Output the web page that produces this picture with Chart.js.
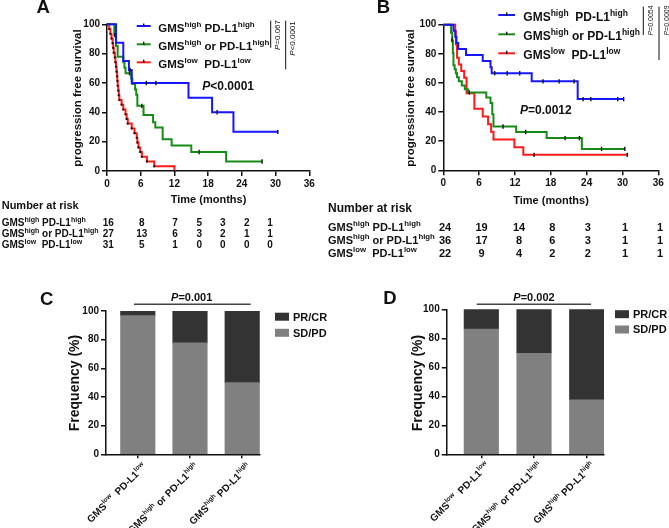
<!DOCTYPE html>
<html><head><meta charset="utf-8">
<script src="https://cdn.jsdelivr.net/npm/chart.js@4.4.1/dist/chart.umd.min.js"></script>
<style>
html,body{margin:0;padding:0;background:#fff;}
body{width:669px;height:528px;position:relative;overflow:hidden;}
canvas{position:absolute;}
</style></head><body>
<canvas id="ca" width="330" height="290" style="left:0;top:0"></canvas>
<canvas id="cb" width="345" height="290" style="left:324px;top:0"></canvas>
<canvas id="cc" width="335" height="238" style="left:0;top:290px"></canvas>
<canvas id="cd" width="334" height="238" style="left:335px;top:290px"></canvas>
<script>
const FONT = "'Liberation Sans', Arial, Helvetica, sans-serif";
const INK = '#111';
const BLUE = '#1616ff', GREEN = '#168c16', RED = '#ff1a1a';
const DARK = '#333333', GREY = '#808080';

// ---- text data (rich text: [text, superscript, italic]) ----
const grpHigh = [['GMS',0],['high',1],[' PD-L1',0],['high',1]];
const grpMid  = [['GMS',0],['high',1],[' or PD-L1',0],['high',1]];
const grpLow  = [['GMS',0],['low',1],['  PD-L1',0],['low',1]];

const timeTicks = [0,6,12,18,24,30,36];
const survTicks = [0,20,40,60,80,100];
const freqTicks = [0,20,40,60,80,100];

// ---- Panel A survival ----
const aHighT = [0,1.6,2.9,3.9,4.4,14.5,18.7,22.5,30.4];
const aHighS = [100,87.5,75,68.8,60,50,40,26.7,26.7];
const aHighCT = [4.1,7.0,8.7,19.6,30.4];
const aHighCS = [68.8,60,60,40,26.7];

const aMidT = [0,1.3,1.6,1.9,2.9,3.1,3.3,4.3,4.5,5.0,5.2,5.4,6.5,8.2,8.6,9.9,11.5,15.0,21.2,27.6];
const aMidS = [100,92.6,85.2,77.8,74.1,70.4,66.7,63,59.3,55.6,51.9,44.4,38.2,33.3,29.6,21.7,17.4,13,6.5,6.5];
const aMidCT = [1.4,4.0,6.2,16.4,27.6];
const aMidCS = [92.6,66.7,44.4,13,6.5];

const aLowT = [0,0.4,0.6,0.8,1.0,1.1,1.2,1.4,1.5,1.6,1.7,1.8,1.85,1.9,2.0,2.1,2.2,2.6,2.9,3.3,3.5,3.7,4.4,4.9,5.3,5.4,5.6,5.9,6.2,7.1,8.4,12.0];
const aLowS = [100,96.8,93.5,90.3,87.1,83.9,80.6,77.4,74.2,71,67.7,64.5,61.3,58.1,54.8,51.6,48.4,45.2,41.9,38.7,35.5,32.3,29,25.8,22.6,19.4,16.1,12.9,9.7,6.5,3.2,0];
const aLowCT = [];
const aLowCS = [];

// ---- Panel B survival ----
const bHighT = [0,1.7,2.0,2.2,2.5,3.8,6.6,7.9,8.1,14.8,22.5,30.2];
const bHighS = [100,95.8,91.7,87.5,83.3,79.2,75,70.8,66.7,61.1,48.9,48.9];
const bHighCT = [8.6,10.7,12.8,16.7,19.4,21.9,23.4,24.7,29.2,30.2];
const bHighCS = [66.7,66.7,66.7,61.1,61.1,61.1,48.9,48.9,48.9,48.9];

const bMidT = [0,1.3,1.5,1.6,1.7,1.9,2.1,2.3,2.6,3.1,3.6,4.1,7.2,7.9,8.2,8.4,12.2,17.3,23.2,30.4];
const bMidS = [100,94.4,88.9,80.6,72.2,69.4,66.7,63.9,61.1,58.3,55.6,53.4,50,46.2,38.5,30.1,26.3,22.1,14.7,14.7];
const bMidCT = [1.45,4.35,10.0,13.8,20.4,22.8,26.5,30.4];
const bMidCS = [89.5,53.4,30.1,26.3,22.1,22.1,14.7,14.7];

const bLowT = [0,2.0,2.1,2.3,2.6,3.0,3.5,3.9,5.2,6.6,7.5,8.0,8.4,11.9,13.4,30.8];
const bLowS = [100,95.5,86.4,77.3,72.7,68.2,63.6,52.9,42.3,37,31.7,26.4,21.1,15.9,10.6,10.6];
const bLowCT = [15.2,30.8];
const bLowCS = [10.6,10.6];

// ---- numbers at risk (at 0,6,...,36 months) ----
const aRiskHigh = [16,8,7,5,3,2,1];
const aRiskMid  = [27,13,6,3,2,1,1];
const aRiskLow  = [31,5,1,0,0,0,0];
const bRiskHigh = [24,19,14,8,3,1,1];
const bRiskMid  = [36,17,8,6,3,1,1];
const bRiskLow  = [22,9,4,2,2,1,1];

// ---- response frequencies (%) ----
const respGroups = [grpLow, grpMid, grpHigh];
const respIndex = [1,2,3];
const cSDPD = [96.8,77.8,50];
const cPRCR = [3.2,22.2,50];
const dSDPD = [86.4,69.7,37.5];
const dPRCR = [13.6,30.3,62.5];

// ---------- helpers ----------
Chart.defaults.font.family = FONT;
const pts = (T,S) => T.map((t,i)=>({x:t,y:S[i]}));

function drawRich(ctx, parts, x, yc, o) {
  const size=o.size, sup=o.sup||size*0.7, weight=o.weight||'bold';
  const fontOf = p => `${p[2]?'italic ':''}${weight} ${p[1]?sup:size}px ${FONT}`;
  let w=0; const ws=[];
  parts.forEach(p=>{ctx.font=fontOf(p); const m=ctx.measureText(p[0]).width; ws.push(m); w+=m;});
  let cx = o.align==='right'? x-w : o.align==='center'? x-w/2 : x;
  const base = yc + size*0.36;
  ctx.textBaseline='alphabetic'; ctx.textAlign='left'; ctx.fillStyle=o.color||INK;
  parts.forEach((p,i)=>{ctx.font=fontOf(p); ctx.fillText(p[0], cx, p[1]? base - size*0.44 : base); cx+=ws[i];});
  return w;
}
function line(ctx,x1,y1,x2,y2,w,c){ctx.beginPath();ctx.moveTo(x1,y1);ctx.lineTo(x2,y2);ctx.lineWidth=w;ctx.strokeStyle=c||INK;ctx.stroke();}
function rotText(ctx, parts, x, yc, o){ctx.save();ctx.translate(x,yc);ctx.rotate(-Math.PI/2);drawRich(ctx,parts,0,0,o);ctx.restore();}
function overlay(ox, oy, fn){return {id:'ov'+Math.random().toString(36).slice(2), afterDraw(chart){const ctx=chart.ctx;ctx.save();ctx.translate(-ox,-oy);fn(ctx,chart);ctx.restore();}};}

function axisCommon(tickVals, xH, yW, isX) {
  const o = {
    offset:false,
    afterBuildTicks: s=>{s.ticks = tickVals.map(v=>({value:v}));},
    ticks:{font:{family:FONT,size:10,weight:'bold'}, color:INK, padding:2, maxRotation:0, autoSkip:false},
    grid:{drawOnChartArea:false, offset:false, color:INK, lineWidth:1.5, tickLength:5, tickWidth:1.5},
    border:{color:INK, width:1.5}
  };
  if (isX) o.afterFit = s=>{s.height = xH;}; else o.afterFit = s=>{s.width = yW;};
  return o;
}

function kmChart(id, series, pad, yW, xH, plugin) {
  const ds = [];
  series.forEach(s=>ds.push({data:pts(s.CT,s.CS), showLine:false, pointStyle:'line', rotation:90, pointRadius:2.2,
    pointBorderColor:INK, pointBorderWidth:1.4, borderColor:INK, clip:false}));
  series.forEach(s=>ds.push({data:pts(s.T,s.S), stepped:'before', borderColor:s.color, borderWidth:2,
    pointRadius:s.dots?1.1:0, pointBackgroundColor:INK, pointBorderWidth:0, fill:false, clip:false}));
  const x = Object.assign({type:'linear', min:0, max:36}, axisCommon(timeTicks, xH, yW, true));
  const y = Object.assign({type:'linear', min:0, max:100}, axisCommon(survTicks, xH, yW, false));
  return new Chart(document.getElementById(id), {
    type:'line', data:{datasets:ds},
    options:{animation:false, responsive:false, devicePixelRatio:1,
      layout:{padding:pad}, plugins:{legend:{display:false}, tooltip:{enabled:false}},
      scales:{x, y}},
    plugins:[plugin]
  });
}

function barChart(id, sd, pr, xmin, xmax, pad, yW, xH, plugin) {
  const x = Object.assign({type:'linear', min:xmin, max:xmax}, axisCommon(respIndex, xH, yW, true));
  x.ticks = Object.assign({}, x.ticks, {callback:()=>''});
  x.grid = Object.assign({}, x.grid, {tickLength:4});
  const y = Object.assign({type:'linear', min:0, max:100, stacked:true}, axisCommon(freqTicks, xH, yW, false));
  return new Chart(document.getElementById(id), {
    type:'bar',
    data:{datasets:[
      {label:'SD/PD', data:respIndex.map((v,i)=>({x:v,y:sd[i]})), backgroundColor:GREY, grouped:false, barThickness:34.5},
      {label:'PR/CR', data:respIndex.map((v,i)=>({x:v,y:pr[i]})), backgroundColor:DARK, grouped:false, barThickness:34.5}
    ]},
    options:{animation:false, responsive:false, devicePixelRatio:1,
      layout:{padding:pad}, plugins:{legend:{display:false}, tooltip:{enabled:false}},
      scales:{x, y}},
    plugins:[plugin]
  });
}

function legendEntry(ctx, x1, x2, y, color, parts, tx, size, sup){
  line(ctx,x1,y,x2,y,2,color);
  line(ctx,(x1+x2)/2,y-2.6,(x1+x2)/2,y+0.8,1.4,INK);
  drawRich(ctx, parts, tx, y+1.6, {size, sup});
}
function riskTable(ctx, x, titleY, titleSize, rowsY, groups, rows, cols, size, sup){
  drawRich(ctx, [['Number at risk',0]], x, titleY, {size:titleSize});
  rows.forEach((r,i)=>{
    drawRich(ctx, groups[i], x, rowsY[i], {size, sup});
    r.forEach((v,j)=>drawRich(ctx, [[String(v),0]], cols[j], rowsY[i], {size, align:'center'}));
  });
}

// ---------- Panel A ----------
kmChart('ca', [
  {T:aHighT,S:aHighS,CT:aHighCT,CS:aHighCS,color:BLUE},
  {T:aMidT,S:aMidS,CT:aMidCT,CS:aMidCS,color:GREEN},
  {T:aLowT,S:aLowS,CT:aLowCT,CS:aLowCS,color:RED,dots:true}
], {left:0, top:24.3, right:20.7, bottom:0}, 107, 119, overlay(0,0,(ctx)=>{
  drawRich(ctx, [['A',0]], 36.5, 6.8, {size:18.5});
  rotText(ctx, [['progression free survival',0]], 76.7, 98, {size:11.5, align:'center'});
  drawRich(ctx, [['Time (months)',0]], 208.5, 199.3, {size:11, align:'center'});
  legendEntry(ctx,136.7,150.7,26,BLUE,grpHigh,158.3,11.5,8);
  legendEntry(ctx,136.7,150.7,44.3,GREEN,grpMid,158.3,11.5,8);
  legendEntry(ctx,136.7,150.7,62.3,RED,grpLow,158.3,11.5,8);
  line(ctx,270.7,20.7,270.7,47.7,1,INK);
  line(ctx,285.7,20.7,285.7,69.3,1,INK);
  rotText(ctx, [['P',0,1],['=0.067',0]], 277, 35, {size:8, weight:'normal', align:'center'});
  rotText(ctx, [['P',0,1],['<0.0001',0]], 292, 38.5, {size:8, weight:'normal', align:'center'});
  drawRich(ctx, [['P',0,1],['<0.0001',0]], 202.3, 85.2, {size:12});
  riskTable(ctx, 1.7, 205.5, 11, [222.7,233.5,244.3], [grpHigh,grpMid,grpLow],
    [aRiskHigh,aRiskMid,aRiskLow], [108.3,141.7,175,199.3,222.7,246.7,270], 10, 7);
}));

// ---------- Panel B ----------
kmChart('cb', [
  {T:bHighT,S:bHighS,CT:bHighCT,CS:bHighCS,color:BLUE},
  {T:bMidT,S:bMidS,CT:bMidCT,CS:bMidCS,color:GREEN},
  {T:bLowT,S:bLowS,CT:bLowCT,CS:bLowCS,color:RED}
], {left:0, top:24.7, right:10.7, bottom:0}, 119.3, 119.7, overlay(324,0,(ctx)=>{
  drawRich(ctx, [['B',0]], 376.7, 6.5, {size:18.5});
  rotText(ctx, [['progression free survival',0]], 410, 98, {size:11.5, align:'center'});
  drawRich(ctx, [['Time (months)',0]], 551, 200, {size:11, align:'center'});
  legendEntry(ctx,498.3,515,15,BLUE,grpHigh.map((p,i)=>i==2?['  PD-L1',0]:p),523.3,12,8.5);
  legendEntry(ctx,498.3,515,34.3,GREEN,grpMid,523.3,12,8.5);
  legendEntry(ctx,498.3,515,53.3,RED,grpLow,523.3,12,8.5);
  line(ctx,643.3,6.7,643.3,35,1,INK);
  line(ctx,659,6.7,659,60,1,INK);
  rotText(ctx, [['P',0,1],['=0.0054',0]], 650.3, 20.5, {size:7, weight:'normal', align:'center'});
  rotText(ctx, [['P',0,1],['=0.0009',0]], 666, 20.5, {size:7, weight:'normal', align:'center'});
  drawRich(ctx, [['P',0,1],['=0.0012',0]], 520, 109.2, {size:12});
  riskTable(ctx, 328, 207.3, 12, [226.8,240,253.3], [grpHigh,grpMid,grpLow],
    [bRiskHigh,bRiskMid,bRiskLow], [445,481.5,519,552.3,587.7,625,660], 11, 7.8);
}));

// ---------- Bar panels ----------
function barOverlay(ox, oy, letter, lx, ly, pText, pcx, lineX1, lineX2, ytx, legX, legY, dx, dy) {
  return overlay(ox, oy, (ctx, chart)=>{
    drawRich(ctx, [[letter,0]], lx, ly, {size:18.5});
    drawRich(ctx, [['P',0,1],[pText,0]], pcx, 297.3, {size:11, align:'center'});
    line(ctx, lineX1, 304.3, lineX2, 304.3, 1.5, '#444');
    rotText(ctx, [['Frequency (%)',0]], ytx, 383, {size:14, align:'center'});
    ctx.fillStyle = DARK; ctx.fillRect(legX, legY[0]-4, 14, 8);
    ctx.fillStyle = GREY; ctx.fillRect(legX, legY[1]-4, 14, 8);
    drawRich(ctx, [['PR/CR',0]], legX+18, legY[0], {size:11});
    drawRich(ctx, [['SD/PD',0]], legX+18, legY[1], {size:11});
    const xs = chart.scales.x, bottom = chart.chartArea.bottom;
    respIndex.forEach((v,i)=>{
      const px = xs.getPixelForValue(v) + ox, py = bottom + oy;
      ctx.save(); ctx.translate(px+dx, py+dy); ctx.rotate(-Math.PI/4);
      drawRich(ctx, respGroups[i], 0, 0, {size:10, sup:6.5, align:'right'});
      ctx.restore();
    });
  });
}
barChart('cc', cSDPD, cPRCR, 0.391, 3.341, {left:0, top:21, right:75, bottom:0}, 106, 73.7,
  barOverlay(0, 290, 'C', 40, 298.3, '=0.001', 191.7, 134, 250.7, 74, 275, [316.7,332.8], 6.5, 10.5));
barChart('cd', dSDPD, dPRCR, 0.343, 3.328, {left:0, top:19.3, right:65, bottom:0}, 111.7, 73.7,
  barOverlay(335, 290, 'D', 383.3, 297.5, '=0.002', 534, 476.7, 591, 417, 615, [314.2,329.5], 6, 9.5));
</script>
</body></html>
